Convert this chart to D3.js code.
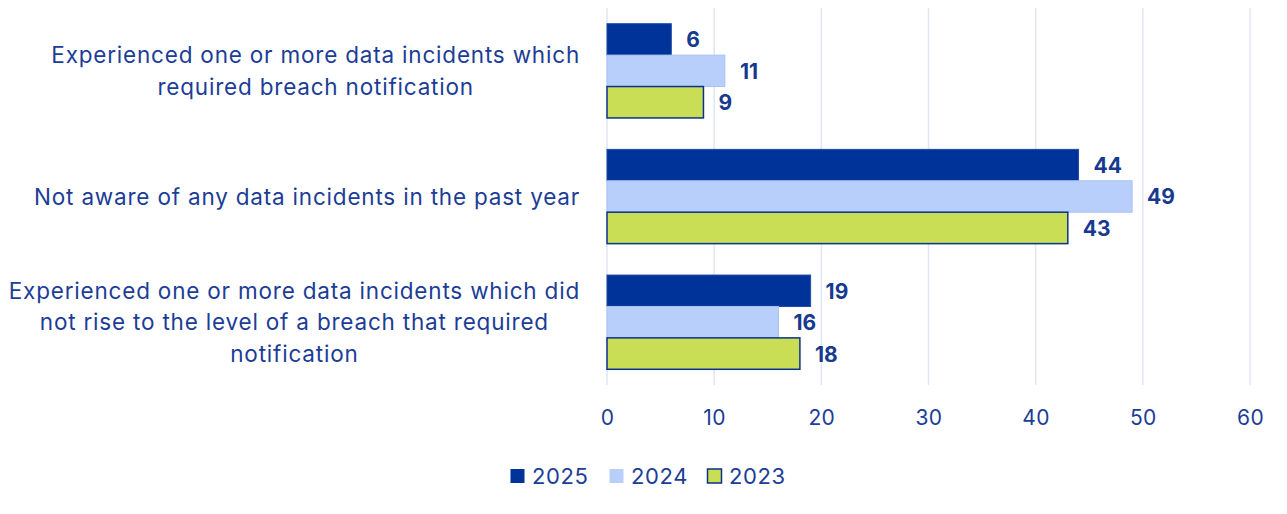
<!DOCTYPE html>
<html>
<head>
<meta charset="utf-8">
<script src="https://cdn.jsdelivr.net/npm/d3@7"></script>
<style>
  html, body { margin: 0; padding: 0; background: #ffffff; }
  svg { display: block; }
</style>
</head>
<body>
<svg id="chart" width="1287" height="514"></svg>
<script>
// Survey responses by year (percent of respondents)
const categories = [
  ["Experienced one or more data incidents which", "required breach notification"],
  ["Not aware of any data incidents in the past year"],
  ["Experienced one or more data incidents which did", "not rise to the level of a breach that required", "notification"]
];
const seriesNames = ["2025", "2024", "2023"];
const values2025 = [6, 44, 19];
const values2024 = [11, 49, 16];
const values2023 = [9, 43, 18];
const xTicks = [0, 10, 20, 30, 40, 50, 60];

const seriesValues = [values2025, values2024, values2023];
const fills = ["#003399", "#b8cffc", "#c9dd55"];
const strokes = ["#1f4aa6", "#a9c2f0", "#0b318f"];
const textColor = "#1c3d96";
const labelColor = "#173a8f";
const font = "Inter, 'Noto Sans', sans-serif";

const svg = d3.select("#chart");
const margin = { left: 607, right: 37, top: 8, bottom: 129 };
const width = 1287, height = 514;

const x = d3.scaleLinear().domain([0, 60]).range([margin.left, width - margin.right]);
const y0 = d3.scaleBand().domain(d3.range(categories.length))
  .range([margin.top, height - margin.bottom]).paddingInner(0.25).paddingOuter(0.125);
const y1 = d3.scaleBand().domain(d3.range(seriesNames.length)).range([0, y0.bandwidth()]);

// vertical gridlines
svg.append("g").selectAll("line").data(xTicks).join("line")
  .attr("x1", d => x(d)).attr("x2", d => x(d))
  .attr("y1", margin.top).attr("y2", height - margin.bottom)
  .attr("stroke", "#dfe6f5").attr("stroke-width", 1.5);

// x axis tick labels
const xAxis = d3.axisBottom(x).tickValues(xTicks).tickSize(0).tickPadding(0).tickFormat(d3.format("d"));
const ax = svg.append("g").attr("transform", `translate(0, ${height - margin.bottom + 25})`).call(xAxis);
ax.select(".domain").remove();
ax.selectAll("text").attr("font-family", font).attr("font-size", 21)
  .attr("letter-spacing", "0.4px")
  .attr("fill", textColor).attr("dy", "0.71em");

// bars
const groups = svg.append("g").selectAll("g").data(categories).join("g")
  .attr("transform", (d, i) => `translate(0, ${y0(i)})`);

seriesNames.forEach((name, s) => {
  groups.append("rect")
    .attr("x", x(0))
    .attr("y", y1(s))
    .attr("width", (d, i) => x(seriesValues[s][i]) - x(0))
    .attr("height", y1.bandwidth())
    .attr("fill", fills[s])
    .attr("stroke", strokes[s])
    .attr("stroke-width", s === 2 ? 1.5 : 1);
  groups.append("text")
    .attr("x", (d, i) => x(seriesValues[s][i]) + 15)
    .attr("y", y1(s) + y1.bandwidth() / 2)
    .attr("dy", "0.38em")
    .attr("font-family", font).attr("font-size", 21).attr("font-weight", "bold")
    .attr("fill", labelColor)
    .text((d, i) => seriesValues[s][i]);
});

// category labels: lines centred within a right-aligned block
const labelRight = 580, lineH = 31.5;
categories.forEach((lines, i) => {
  const g = svg.append("g");
  const texts = lines.map((t, k) => g.append("text")
    .attr("font-family", font).attr("font-size", 22.5).attr("letter-spacing", "0.8px")
    .attr("fill", textColor)
    .attr("text-anchor", "middle").text(t));
  const maxW = d3.max(texts, t => t.node().getComputedTextLength());
  const cy = y0(i) + y0.bandwidth() / 2;
  texts.forEach((t, k) => {
    t.attr("x", labelRight - maxW / 2)
     .attr("y", cy + (k - (lines.length - 1) / 2) * lineH)
     .attr("dy", "0.36em");
  });
});

// legend
const legend = svg.append("g").attr("transform", "translate(510, 476)");
const legendX = [0, 99, 197];
seriesNames.forEach((name, s) => {
  const g = legend.append("g").attr("transform", `translate(${legendX[s]}, 0)`);
  g.append("rect").attr("x", 0.5).attr("y", -7).attr("width", 14).attr("height", 14)
    .attr("fill", fills[s]).attr("stroke", s === 2 ? strokes[s] : "none").attr("stroke-width", 1.5);
  g.append("text").attr("x", 22).attr("y", 0).attr("dy", "0.36em")
    .attr("font-family", font).attr("font-size", 22).attr("letter-spacing", "0.6px")
    .attr("fill", textColor).text(name);
});
</script>
</body>
</html>
